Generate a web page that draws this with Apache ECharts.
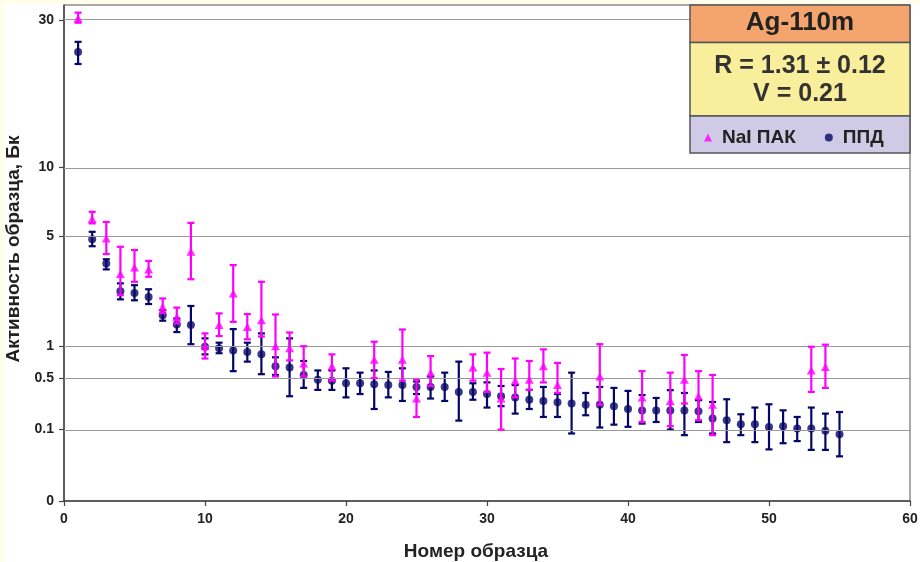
<!DOCTYPE html>
<html>
<head>
<meta charset="utf-8">
<title>Ag-110m</title>
<script src="https://cdn.jsdelivr.net/npm/echarts@6/dist/echarts.min.js"></script>
<style>
  html, body { margin: 0; padding: 0; background: #ffffff; }
  #chart { width: 920px; height: 562px; }
</style>
</head>
<body>
<div id="chart"></div>
<script>
// Sample numbers 1..55
const sampleNo = Array.from({ length: 55 }, (_, i) => i + 1);

// NaI ПАК: activity, Bq, with lower / upper error limits (null = not measured)
const naiValue = [30.3, 6.04, 4.88, 3.15, 3.43, 3.35, 1.97, 1.68, 4.17, 1.0,
  1.47, 2.41, 1.42, 1.59, 1.0, 0.96, 0.70, null, 0.66, null,
  null, 0.76, null, 0.76, 0.29, 0.57, null, null, 0.64, 0.57,
  0.29, 0.47, 0.48, 0.66, 0.42, null, null, 0.52, null, null,
  0.30, null, 0.27, 0.48, 0.31, 0.24, null, null, null, null,
  null, null, 0.60, 0.65, null];
const naiLow = [29.5, 5.77, 4.06, 2.35, 2.84, 3.04, 1.79, 1.51, 2.94, 0.78,
  1.21, 1.55, 1.14, 1.2, 0.52, 0.75, 0.52, null, 0.47, null,
  null, 0.50, null, 0.47, 0.16, 0.41, null, null, 0.47, 0.35,
  0.098, 0.30, 0.37, 0.45, 0.34, null, null, 0.24, null, null,
  0.133, null, 0.113, 0.25, 0.142, 0.077, null, null, null, null,
  null, null, 0.35, 0.39, null];
const naiHigh = [31.4, 6.52, 5.86, 4.43, 4.26, 3.73, 2.24, 1.95, 5.80, 1.27,
  1.78, 3.54, 1.76, 2.84, 1.75, 1.29, 1.0, null, 0.85, null,
  null, 1.09, null, 1.36, 0.48, 0.82, null, null, 0.85, 0.88,
  0.62, 0.78, 0.74, 0.94, 0.71, null, null, 1.04, null, null,
  0.59, null, 0.57, 0.84, 0.59, 0.54, null, null, null, null,
  null, null, 0.99, 1.03, null];

// ППД: activity, Bq, with lower / upper error limits
const ppdValue = [24.4, 4.84, 3.61, 2.49, 2.43, 2.29, 1.73, 1.48, 1.47, 0.99,
  0.96, 0.92, 0.89, 0.85, 0.66, 0.64, 0.54, 0.48, 0.47, 0.44,
  0.44, 0.43, 0.42, 0.42, 0.40, 0.40, 0.40, 0.35, 0.35, 0.33,
  0.31, 0.30, 0.28, 0.27, 0.26, 0.25, 0.24, 0.24, 0.23, 0.21,
  0.20, 0.20, 0.20, 0.20, 0.195, 0.151, 0.142, 0.122, 0.122, 0.109,
  0.113, 0.103, 0.103, 0.093, 0.080];
const ppdLow = [22.5, 4.46, 3.35, 2.21, 2.18, 2.06, 1.58, 1.30, 1.04, 0.85,
  0.87, 0.59, 0.73, 0.55, 0.54, 0.31, 0.39, 0.37, 0.37, 0.30,
  0.33, 0.21, 0.30, 0.27, 0.33, 0.29, 0.27, 0.14, 0.28, 0.22,
  0.23, 0.18, 0.21, 0.16, 0.16, 0.083, 0.17, 0.107, 0.12, 0.11,
  0.125, 0.133, 0.098, 0.077, 0.133, 0.083, 0.055, 0.077, 0.055, 0.037,
  0.052, 0.058, 0.036, 0.036, 0.024];
const ppdHigh = [26.1, 5.26, 3.81, 2.78, 2.71, 2.56, 1.87, 1.64, 2.0, 1.16,
  1.07, 1.37, 1.07, 1.27, 0.80, 1.16, 0.74, 0.60, 0.60, 0.63,
  0.57, 0.60, 0.58, 0.63, 0.46, 0.52, 0.57, 0.73, 0.44, 0.45,
  0.41, 0.42, 0.37, 0.40, 0.33, 0.57, 0.34, 0.40, 0.39, 0.36,
  0.32, 0.295, 0.367, 0.34, 0.276, 0.262, 0.284, 0.176, 0.22, 0.244,
  0.201, 0.16, 0.22, 0.18, 0.19];

// Axis ticks
const xTicks = [0, 10, 20, 30, 40, 50, 60];
const yTicks = [0, 0.1, 0.5, 1, 5, 10, 30];
const yTop = 32.9;

// The activity axis is drawn on a cube-root scale
const cbrt = v => Math.cbrt(v);
const uncbrt = t => Math.round(t * t * t * 10) / 10;

function points(vals) {
  return sampleNo.map((n, i) => vals[i] == null ? null : [n, cbrt(vals[i])])
    .filter(p => p);
}
function bars(vals, lo, hi) {
  return sampleNo.map((n, i) => vals[i] == null ? null : [n, cbrt(lo[i]), cbrt(hi[i])])
    .filter(p => p);
}

const NAVY = '#060668';
const MAGENTA = '#ff00ff';

function errorBar(color) {
  return function (params, api) {
    const x = api.value(0);
    const a = api.coord([x, api.value(1)]);
    const b = api.coord([x, api.value(2)]);
    const w = 3.5;
    const style = { stroke: color, lineWidth: 2.2 };
    return {
      type: 'group',
      children: [
        { type: 'line', shape: { x1: a[0], y1: a[1], x2: b[0], y2: b[1] }, style },
        { type: 'line', shape: { x1: a[0] - w, y1: a[1], x2: a[0] + w, y2: a[1] }, style },
        { type: 'line', shape: { x1: b[0] - w, y1: b[1], x2: b[0] + w, y2: b[1] }, style }
      ]
    };
  };
}

const FONT = '"Liberation Sans", Arial, sans-serif';
const chart = echarts.init(document.getElementById('chart'), null, { renderer: 'canvas' });

const BOX_L = 690, BOX_R = 910, BOX_T = 5;

chart.setOption({
  backgroundColor: '#ffffff',
  animation: false,
  grid: {
    left: 64, right: 10, top: 5, bottom: 61,
    outerBoundsMode: 'none', containLabel: false,
    show: true, borderColor: '#555', borderWidth: 1, backgroundColor: '#ffffff'
  },
  xAxis: {
    type: 'value', min: 0, max: 60, interval: 10,
    name: 'Номер образца', nameLocation: 'middle', nameGap: 41,
    nameTextStyle: { fontFamily: FONT, fontWeight: 'bold', fontSize: 19, color: '#222',
      padding: [0, 22, 0, 0] },
    axisLine: { show: true, lineStyle: { color: '#444', width: 1.5 } },
    axisTick: { show: true, inside: false, length: 5, lineStyle: { color: '#444', width: 1.2 } },
    axisLabel: { fontFamily: FONT, fontWeight: 'bold', fontSize: 14, color: '#222', margin: 11 },
    splitLine: { show: false }
  },
  yAxis: {
    type: 'value', min: 0, max: cbrt(yTop),
    name: 'Активность образца, Бк', nameLocation: 'middle', nameGap: 38,
    nameTextStyle: { fontFamily: FONT, fontWeight: 'bold', fontSize: 19, color: '#222',
      padding: [0, 0, 0, 8] },
    axisLine: { show: true, lineStyle: { color: '#444', width: 1.5 } },
    axisTick: { show: true, length: 5, lineStyle: { color: '#444', width: 1.2 },
      customValues: yTicks.map(cbrt) },
    axisLabel: { fontFamily: FONT, fontWeight: 'bold', fontSize: 14, color: '#222', margin: 10,
      customValues: yTicks.map(cbrt), formatter: v => String(uncbrt(v)) },
    splitLine: { show: false }
  },
  legend: {
    left: 699, top: 123, z: 20,
    itemWidth: 8, itemHeight: 8, itemGap: 29,
    textStyle: { fontFamily: FONT, fontWeight: 'bold', fontSize: 19, color: '#222',
      padding: [0, 0, 0, 5] },
    data: [
      { name: 'NaI ПАК', icon: 'triangle' },
      { name: 'ППД', icon: 'circle' }
    ]
  },
  series: [
    {
      name: 'сетка', type: 'line', data: [], silent: true, z: 1,
      markLine: {
        silent: true, symbol: 'none', label: { show: false },
        lineStyle: { color: '#9a9a9a', width: 1.2, type: 'solid' },
        data: yTicks.filter(t => t > 0).map(t => ({ yAxis: cbrt(t) }))
      }
    },
    {
      name: 'ППД погрешность', type: 'custom', renderItem: errorBar(NAVY),
      data: bars(ppdValue, ppdLow, ppdHigh), z: 3, silent: true
    },
    {
      name: 'ППД', type: 'scatter', symbol: 'circle', symbolSize: 8,
      itemStyle: { color: NAVY }, data: points(ppdValue), z: 4
    },
    {
      name: 'NaI ПАК погрешность', type: 'custom', renderItem: errorBar(MAGENTA),
      data: bars(naiValue, naiLow, naiHigh), z: 5, silent: true
    },
    {
      name: 'NaI ПАК', type: 'scatter', symbol: 'triangle', symbolSize: [9, 8],
      itemStyle: { color: MAGENTA }, data: points(naiValue), z: 6
    }
  ],
  graphic: [
    { type: 'rect', z: 0, silent: true, shape: { x: 0, y: 0, width: 5, height: 562 }, style: { fill: '#fffeea' } },
    { type: 'rect', z: 0, silent: true, shape: { x: 0, y: 0, width: 920, height: 4 }, style: { fill: '#fffeea' } },
    { type: 'rect', z: 10, shape: { x: BOX_L, y: BOX_T, width: BOX_R - BOX_L, height: 37.5 },
      style: { fill: '#f4a56e', stroke: '#555', lineWidth: 1.5 } },
    { type: 'rect', z: 10, shape: { x: BOX_L, y: 42.5, width: BOX_R - BOX_L, height: 73.5 },
      style: { fill: '#f8ee9c', stroke: '#555', lineWidth: 1.5 } },
    { type: 'rect', z: 10, shape: { x: BOX_L, y: 116, width: BOX_R - BOX_L, height: 37 },
      style: { fill: '#cfcbe6', stroke: '#555', lineWidth: 1.5 } },
    { type: 'text', z: 11, x: 800, y: 23,
      style: { text: 'Ag-110m', fill: '#222', font: 'bold 26px ' + FONT, align: 'center', verticalAlign: 'middle' } },
    { type: 'text', z: 11, x: 800, y: 66,
      style: { text: 'R = 1.31 ± 0.12', fill: '#333', font: 'bold 25px ' + FONT, align: 'center', verticalAlign: 'middle' } },
    { type: 'text', z: 11, x: 800, y: 94,
      style: { text: 'V = 0.21', fill: '#333', font: 'bold 25px ' + FONT, align: 'center', verticalAlign: 'middle' } }
  ]
});
</script>
</body>
</html>
